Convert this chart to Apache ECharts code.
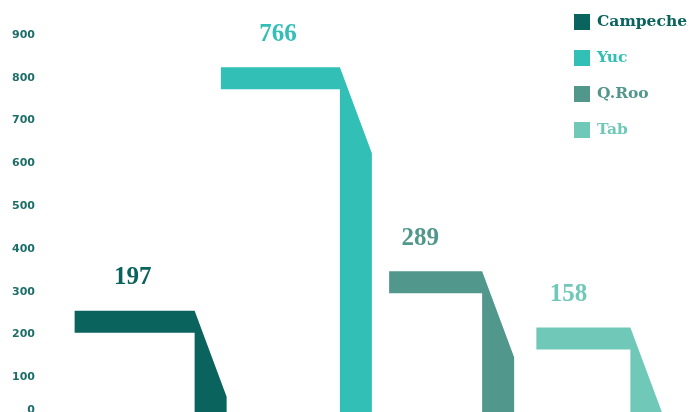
<!DOCTYPE html>
<html>
<head>
<meta charset="utf-8">
<script src="https://cdn.jsdelivr.net/npm/echarts@6/dist/echarts.min.js"></script>
<style>html,body{margin:0;padding:0;background:#fff;}#c{width:690px;height:412px;}</style>
</head>
<body>
<div id="c"></div>
<script>
const categories = ['Campeche', 'Yuc', 'Q.Roo', 'Tab'];
const values = [197, 766, 289, 158];
const yTicks = [0, 100, 200, 300, 400, 500, 600, 700, 800, 900];

const colors = ['#0b635d', '#32bfb5', '#52978c', '#70c8b8'];
const bandWidths = [120, 119, 93, 94];
const shiftX = [0, 0, -3, 0];

const chart = echarts.init(document.getElementById('c'));

function makeRender(idx) {
  return function (params, api) {
    const cat = api.value(0);
    const v = api.value(1);
    const p = api.coord([cat, v]);
    const base = api.coord([cat, 0]);
    const c = p[0] + shiftX[idx];
    const bottom = p[1];
    const top = bottom - 22;
    const xv = c + 13;
    const w = 32;
    const bandL = xv - bandWidths[idx];
    const pts = [
      [bandL, top], [xv, top], [xv + w, top + 86], [xv + w, base[1]],
      [xv, base[1]], [xv, bottom], [bandL, bottom]
    ];
    return {
      type: 'group',
      children: [
        { type: 'polygon', shape: { points: pts }, style: { fill: colors[idx] } },
        {
          type: 'text',
          style: {
            x: c - 49, y: top - 33, text: String(v),
            fill: colors[idx], align: 'center', verticalAlign: 'middle',
            font: 'bold 25px "Liberation Serif"'
          }
        }
      ]
    };
  };
}

const series = categories.map((name, i) => ({
  name: name,
  type: 'custom',
  renderItem: makeRender(i),
  data: [[i, values[i]]],
  itemStyle: { color: colors[i] },
  encode: { x: 0, y: 1 }
}));

chart.setOption({
  animation: false,
  grid: { left: 109, right: 0, top: 32, height: 385, outerBoundsMode: 'none', containLabel: false },
  xAxis: { type: 'category', data: categories, show: false },
  yAxis: {
    type: 'value', min: yTicks[0], max: yTicks[yTicks.length - 1], interval: 100,
    axisLine: { show: false }, axisTick: { show: false }, splitLine: { show: false },
    axisLabel: {
      margin: 74,
      formatter: function (v) { return v === 0 ? '{z|0}' : '{n|' + v + '}'; },
      rich: {
        n: { color: '#1d6e68', fontSize: 11, fontWeight: 'bold', fontFamily: 'DejaVu Sans', padding: [6, 0, 0, 0] },
        z: { color: '#1d6e68', fontSize: 11, fontWeight: 'bold', fontFamily: 'DejaVu Sans', padding: [0, 0, 14, 0] }
      }
    }
  },
  legend: {
    orient: 'vertical', left: 569, top: 9,
    itemWidth: 16, itemHeight: 16, itemGap: 20,
    icon: 'rect',
    data: categories.map((n, i) => ({ name: n, textStyle: { color: colors[i] } })),
    textStyle: { fontFamily: 'DejaVu Serif', fontWeight: 'bold', fontSize: 15.5, padding: [0, 0, 0, 2] }
  },
  series: series
});
</script>
</body>
</html>
